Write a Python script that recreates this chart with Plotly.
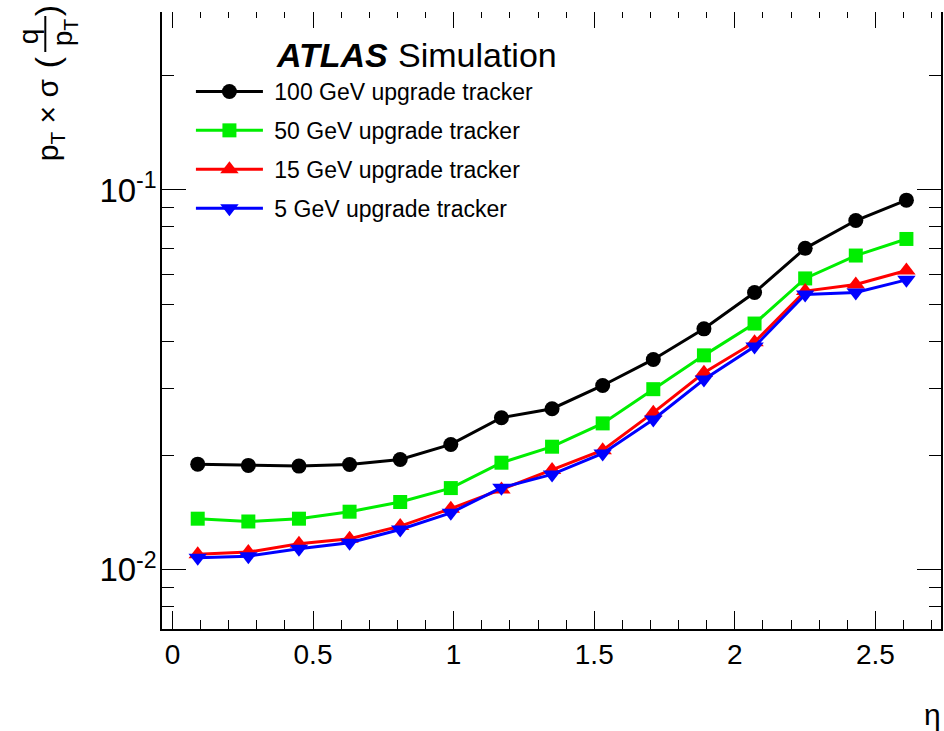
import plotly.graph_objects as go

# ---- data ----
eta = [0.09, 0.27, 0.45, 0.63, 0.81, 0.99, 1.17, 1.35, 1.53, 1.71, 1.89, 2.07, 2.25, 2.43, 2.61]
res_100 = [0.01898, 0.01884, 0.01876, 0.01895, 0.01953, 0.02139, 0.02515, 0.02656, 0.03058,
           0.0358, 0.0431, 0.0537, 0.0702, 0.0831, 0.0940]
res_50 = [0.01364, 0.01341, 0.01364, 0.01423, 0.01509, 0.01642, 0.01915, 0.0211, 0.0243,
          0.0299, 0.0367, 0.0445, 0.0585, 0.0672, 0.0743]
res_15 = [0.01099, 0.01114, 0.01172, 0.01208, 0.01304, 0.01449, 0.01629, 0.01831, 0.02066,
          0.02593, 0.03303, 0.03975, 0.05418, 0.05641, 0.0614]
res_5 = [0.01077, 0.01087, 0.01137, 0.01179, 0.01278, 0.01413, 0.01646, 0.01784, 0.02025,
         0.02489, 0.0317, 0.0387, 0.0531, 0.0537, 0.0580]
names = ["100 GeV upgrade tracker", "50 GeV upgrade tracker",
         "15 GeV upgrade tracker", "5 GeV upgrade tracker"]
y_tickvals = [0.01, 0.1]
y_ticktext = ["10<sup>-2</sup>", "10<sup>-1</sup>"]

# ---- figure geometry ----
W, H = 944, 731
ML, MR, MT, MB = 162, 1, 12, 102
PW, PH = W - ML - MR, H - MT - MB
FONT = "Liberation Sans, Arial, sans-serif"


def px(x):
    return (x - ML) / PW


def py(y):
    return (H - MB - y) / PH


series = [
    (res_100, "black", "circle", 15),
    (res_50, "#00ee00", "square", 14),
    (res_15, "#ff0000", "triangle-up", 16),
    (res_5, "#0000ff", "triangle-down", 16),
]

fig = go.Figure()
for (vals, col, sym, ms), nm in zip(series, names):
    fig.add_trace(go.Scatter(
        x=eta, y=vals, name="\u00a0" + nm, mode="lines+markers",
        line=dict(color=col, width=3),
        marker=dict(symbol=sym, size=ms, color=col),
        legendgroup=nm,
    ))

# empty trace to activate the top (tick-only) axis
fig.add_trace(go.Scatter(x=[], y=[], xaxis="x2", yaxis="y", showlegend=False, hoverinfo="skip"))

xr = [-0.037, 2.733]
fig.update_layout(
    width=W, height=H,
    margin=dict(l=ML, r=MR, t=MT, b=MB, pad=0),
    paper_bgcolor="white", plot_bgcolor="white",
    font=dict(family=FONT, color="black"),
    showlegend=True,
    legend=dict(
        x=px(191), y=py(70), xanchor="left", yanchor="top",
        bgcolor="rgba(0,0,0,0)", borderwidth=0,
        font=dict(size=23, family=FONT, color="black"),
        itemwidth=67, tracegroupgap=6, traceorder="grouped",
    ),
    xaxis=dict(
        range=xr, showgrid=False, zeroline=False,
        showline=True, linecolor="black", linewidth=1.5,
        ticks="inside", ticklen=18, tickwidth=1.3, tickcolor="black",
        tick0=0, dtick=0.5,
        minor=dict(ticks="inside", ticklen=9, tickwidth=1.3, tickcolor="black", dtick=0.1, tick0=0),
        tickfont=dict(size=28, family=FONT),
        ticklabelstandoff=0,
    ),
    xaxis2=dict(
        overlaying="x", side="top", range=xr, matches="x",
        showgrid=False, zeroline=False, showline=False,
        ticks="inside", ticklen=16, tickwidth=1.3, tickcolor="black",
        tick0=0, dtick=0.5, showticklabels=False,
        minor=dict(ticks="inside", ticklen=6, tickwidth=1.3, tickcolor="black", dtick=0.1, tick0=0),
    ),
    yaxis=dict(
        type="log", range=[-2.1555, -0.5317],
        showgrid=False, zeroline=False,
        showline=True, linecolor="black", linewidth=1.5, mirror="ticks",
        ticks="inside", ticklen=24, tickwidth=1.3, tickcolor="black",
        tickmode="array", tickvals=y_tickvals, ticktext=y_ticktext,
        minor=dict(ticks="inside", ticklen=12, tickwidth=1.3, tickcolor="black", dtick="D1"),
        tickfont=dict(size=33, family=FONT),
        ticklabelstandoff=-3,
    ),
)

ann = []
# ATLAS Simulation label
ann.append(dict(x=px(274), y=py(55), xref="paper", yref="paper", xanchor="left", yanchor="middle",
                text="<b><i>ATLAS</i></b>", showarrow=False, font=dict(size=34, family=FONT)))
ann.append(dict(x=px(397), y=py(55), xref="paper", yref="paper", xanchor="left", yanchor="middle",
                text="Simulation", showarrow=False, font=dict(size=34, family=FONT)))
# x-axis title
ann.append(dict(x=px(934), y=py(714), xref="paper", yref="paper", xanchor="center", yanchor="middle",
                text="η", showarrow=False, font=dict(size=30, family=FONT)))
# y-axis title: p_T x sigma (q / p_T), rotated
ann.append(dict(x=px(50), y=py(120), xref="paper", yref="paper", xanchor="center", yanchor="middle",
                text="p<sub>T</sub> × σ", textangle=-90, showarrow=False, font=dict(size=30, family=FONT)))
ann.append(dict(x=px(47), y=py(62), xref="paper", yref="paper", xanchor="center", yanchor="middle",
                text="(", textangle=-90, showarrow=False, font=dict(size=34, family=FONT)))
ann.append(dict(x=px(47), y=py(11), xref="paper", yref="paper", xanchor="center", yanchor="middle",
                text=")", textangle=-90, showarrow=False, font=dict(size=34, family=FONT)))
ann.append(dict(x=px(28), y=py(36), xref="paper", yref="paper", xanchor="center", yanchor="middle",
                text="q", textangle=-90, showarrow=False, font=dict(size=28, family=FONT)))
ann.append(dict(x=px(64), y=py(32), xref="paper", yref="paper", xanchor="center", yanchor="middle",
                text="p<sub>T</sub>", textangle=-90, showarrow=False, font=dict(size=28, family=FONT)))
fig.update_layout(annotations=ann)

# fraction bar of the y title
fig.add_shape(type="line", xref="paper", yref="paper",
              x0=px(45), x1=px(45), y0=py(52), y1=py(16),
              line=dict(color="black", width=2))

fig.write_html("out.html", config={"displayModeBar": False},
               post_script="document.body.style.margin='0px';")
